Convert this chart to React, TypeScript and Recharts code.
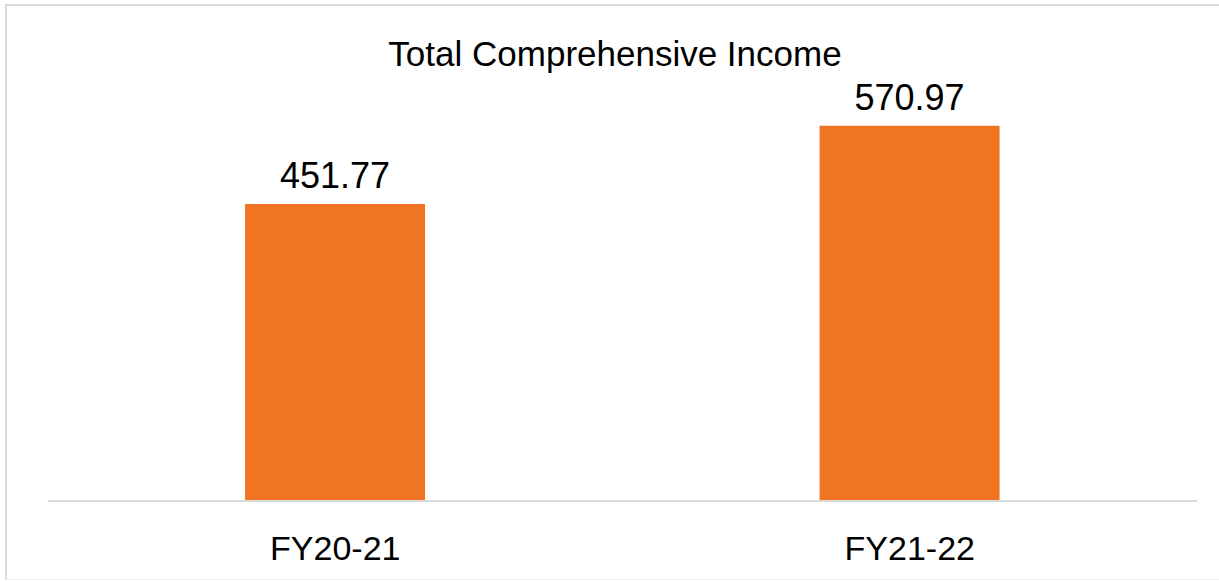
import React from 'react';
import { BarChart, Bar, XAxis, YAxis, LabelList } from 'recharts';

const categories = ['FY20-21', 'FY21-22'];
const values = [451.77, 570.97];
const title = 'Total Comprehensive Income';

const data = categories.map((c, i) => ({ name: c, value: values[i] }));

const FONT = '"Liberation Sans", Arial, sans-serif';

const Tick = (props: any) => {
  const { x, y, payload } = props;
  return (
    <text x={x} y={y + 51} textAnchor="middle" fontFamily={FONT} fontSize={34} fill="#000">
      {payload.value}
    </text>
  );
};

export default function App() {
  return (
    <div style={{ position: 'absolute', left: 0, top: 0, width: 1219, height: 582, background: '#fff' }}>
      <div
        style={{
          position: 'absolute',
          left: 5,
          top: 4,
          width: 1230,
          height: 576,
          borderTop: '2px solid #d9d9d9',
          borderLeft: '2px solid #d9d9d9',
          borderBottom: '1px solid #eeeeee',
          boxSizing: 'border-box',
        }}
      />
      <svg style={{ position: 'absolute', left: 0, top: 0 }} width={1219} height={582}>
        <text x={615} y={66} textAnchor="middle" fontFamily={FONT} fontSize={35} fill="#000">
          {title}
        </text>
      </svg>
      <div style={{ position: 'absolute', left: 0, top: 0 }}>
        <BarChart
          width={1219}
          height={582}
          data={data}
          margin={{ top: 41, right: 22, bottom: 21, left: 48 }}
          barCategoryGap="34.3%"
        >
          <YAxis hide domain={[0, 700]} />
          <XAxis
            dataKey="name"
            height={60}
            tickLine={false}
            axisLine={{ stroke: '#d9d9d9', strokeWidth: 2 }}
            tick={<Tick />}
            interval={0}
          />
          <Bar dataKey="value" fill="#EF7522" isAnimationActive={false}>
            <LabelList
              dataKey="value"
              position="top"
              offset={16}
              fontFamily={FONT}
              fontSize={36}
              fill="#000"
              formatter={(v: any) => Number(v).toFixed(2)}
            />
          </Bar>
        </BarChart>
      </div>
    </div>
  );
}
